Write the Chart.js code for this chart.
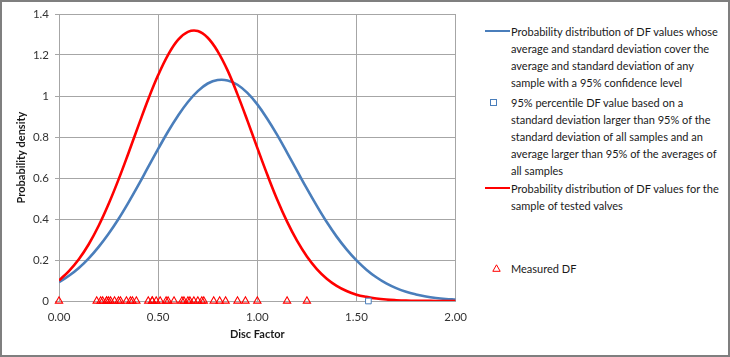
<!DOCTYPE html>
<html><head><meta charset="utf-8">
<script src="https://cdn.jsdelivr.net/npm/chart.js@4"></script>
<style>
html,body{margin:0;padding:0;background:#fff;}
#frame{position:relative;width:730px;height:357px;overflow:hidden;background:#fff;}
#border{position:absolute;left:0;top:0;width:730px;height:357px;box-sizing:border-box;border:2px solid #7f7f7f;pointer-events:none;}
#wrap{position:absolute;left:0;top:0;width:476px;height:357px;}
.leg{position:absolute;left:511px;font-family:Lato,"Liberation Sans",sans-serif;font-size:11px;line-height:17px;color:#1a1a1a;white-space:nowrap;}
.mk{position:absolute;}
</style>
</head><body>
<div id="frame">
  <div id="wrap"><canvas id="c" width="476" height="357"></canvas></div>
  <div class="mk" style="left:485px;top:29.8px;width:25px;height:2.5px;background:#4a7ebb;"></div>
  <div class="leg" style="top:22.5px;">Probability distribution of DF values whose<br>average and standard deviation cover the<br>average and standard deviation of any<br>sample with a 95% confidence level</div>
  <div class="mk" style="left:490px;top:98.5px;width:7px;height:7px;box-sizing:border-box;border:1px solid #4a7ebb;"></div>
  <div class="leg" style="top:93.5px;">95% percentile DF value based on a<br>standard deviation larger than 95% of the<br>standard deviation of all samples and an<br>average larger than 95% of the averages of<br>all samples</div>
  <div class="mk" style="left:485px;top:186.8px;width:25px;height:2.5px;background:#ff0000;"></div>
  <div class="leg" style="top:179.5px;">Probability distribution of DF values for the<br>sample of tested valves</div>
  <svg class="mk" style="left:492px;top:264px;" width="9" height="8"><polygon points="4.5,0.8 8.2,7.3 0.8,7.3" fill="none" stroke="#ff0000" stroke-width="1"/></svg>
  <div class="leg" style="top:259.5px;">Measured DF</div>
  <div id="border"></div>
</div>
<script>
const xValues = [0.00,0.05,0.10,0.15,0.20,0.25,0.30,0.35,0.40,0.45,0.50,0.55,0.60,0.65,0.70,0.75,0.80,0.85,0.90,0.95,1.00,1.05,1.10,1.15,1.20,1.25,1.30,1.35,1.40,1.45,1.50,1.55,1.60,1.65,1.70,1.75,1.80,1.85,1.90,1.95,2.00];
const blueDensity = [0.092,0.123,0.161,0.208,0.264,0.328,0.400,0.480,0.565,0.654,0.742,0.827,0.904,0.971,1.024,1.061,1.078,1.076,1.055,1.015,0.959,0.889,0.810,0.724,0.636,0.548,0.464,0.385,0.314,0.252,0.198,0.153,0.116,0.086,0.063,0.045,0.032,0.022,0.015,0.010,0.0065];
const redDensity = [0.100,0.146,0.204,0.277,0.367,0.473,0.592,0.721,0.854,0.984,1.102,1.201,1.274,1.313,1.317,1.284,1.218,1.125,1.008,0.880,0.747,0.617,0.495,0.387,0.294,0.217,0.156,0.109,0.074,0.049,0.031,0.020,0.012,0.007,0.004,0.002,0.001,0.001,0.000,0.000,0.000];
const percentileDF = [1.56];
const measuredDF = [0.00,0.19,0.21,0.22,0.24,0.24,0.25,0.26,0.28,0.30,0.31,0.34,0.36,0.37,0.39,0.45,0.47,0.47,0.49,0.51,0.54,0.55,0.58,0.62,0.63,0.65,0.66,0.68,0.70,0.72,0.73,0.78,0.81,0.84,0.90,0.94,1.00,1.15,1.25];
const xTickLabels = ["0.00","0.50","1.00","1.50","2.00"];
const yTickLabels = ["0","0.2","0.4","0.6","0.8","1","1.2","1.4"];

const FONT = 'Lato, "Liberation Sans", sans-serif';
const GRID = '#a6a6a6';

new Chart(document.getElementById('c'), {
  type: 'line',
  data: {
    datasets: [
      { type:'scatter', label:'Measured DF', data: measuredDF.map(v=>({x:v,y:0})),
        pointStyle:'triangle', pointRadius:4.2, borderColor:'#ff0000', backgroundColor:'rgba(255,255,255,0)', borderWidth:1.1, clip:false, order:0 },
      { type:'scatter', label:'95% percentile', data: percentileDF.map(v=>({x:v,y:0})),
        pointStyle:'rect', pointRadius:4, borderColor:'#4a7ebb', backgroundColor:'#ffffff', borderWidth:1, clip:false, order:0 },
      { label:'Red', data: xValues.map((x,i)=>({x, y:redDensity[i]})), borderColor:'#ff0000', borderWidth:2.6,
        pointRadius:0, tension:0.4, fill:false, order:1 },
      { label:'Blue', data: xValues.map((x,i)=>({x, y:blueDensity[i]})), borderColor:'#4a7ebb', borderWidth:2.6,
        pointRadius:0, tension:0.4, fill:false, order:2 }
    ]
  },
  options: {
    responsive:false, animation:false,
    layout:{ padding:{ top:14, right:20, left:0, bottom:0 } },
    plugins:{ legend:{display:false}, tooltip:{enabled:false} },
    scales:{
      x:{ type:'linear', min:0, max:2,
        afterFit(s){ s.height = 56; },
        ticks:{ stepSize:0.5, autoSkip:false, maxRotation:0, padding:9, color:'#333', font:{family:FONT,size:11.5},
          callback:(v,i)=>xTickLabels[i] },
        grid:{ color:GRID, lineWidth:1, drawTicks:false },
        border:{ color:GRID, width:1 },
        title:{ display:true, text:'Disc Factor', color:'#1a1a1a', font:{family:FONT,size:11,weight:'bold'}, padding:{top:0,bottom:16} }
      },
      y:{ min:0, max:1.4,
        afterFit(s){ s.width = 59; },
        ticks:{ stepSize:0.2, padding:6, color:'#333', font:{family:FONT,size:11.5},
          callback:(v,i)=>yTickLabels[i] },
        grid:{ color:GRID, lineWidth:1, tickLength:4 },
        border:{ color:GRID, width:1 },
        title:{ display:true, text:'Probability density', color:'#1a1a1a', font:{family:FONT,size:11,weight:'bold'}, padding:{top:15,bottom:0} }
      }
    }
  }
});
</script>
</body></html>
